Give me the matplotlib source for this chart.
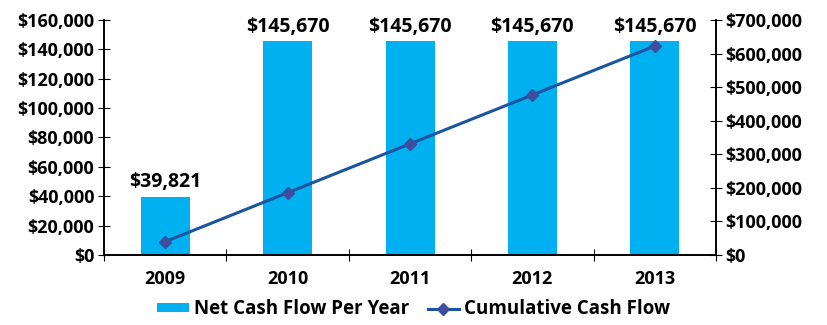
import matplotlib.pyplot as plt
import numpy as np
from matplotlib.ticker import FuncFormatter

years = ["2009", "2010", "2011", "2012", "2013"]
net_flow = [39821, 145670, 145670, 145670, 145670]
cumulative = [39821, 185491, 331161, 476831, 622501]

plt.rcParams['font.family'] = ['Open Sans', 'DejaVu Sans']
plt.rcParams['font.weight'] = 'bold'

fig = plt.figure(figsize=(8.27, 3.25), dpi=100)
ax = fig.add_axes([0.1258, 0.2154, 0.74, 0.7231])
ax2 = ax.twinx()

x = np.arange(len(years))
bars = ax.bar(x, net_flow, width=0.4, color="#00B0F0", label="Net Cash Flow Per Year", zorder=2)
for xi, v in zip(x, net_flow):
    ax.text(xi, v + 3000, f"${v:,}", ha="center", va="bottom", fontsize=14, fontweight="bold")

ln, = ax2.plot(x, cumulative, color="#1B54A0", lw=2.2, marker="D", ms=6,
               mfc="#3F4D9E", mec="#3F4D9E", label="Cumulative Cash Flow")

money = FuncFormatter(lambda v, p: f"${int(v):,}")
ax.set_xlim(-0.5, 4.5)
ax.set_ylim(0, 160000)
ax.set_yticks(np.arange(0, 160001, 20000))
ax.yaxis.set_major_formatter(money)
ax2.set_ylim(0, 700000)
ax2.set_yticks(np.arange(0, 700001, 100000))
ax2.yaxis.set_major_formatter(money)

ax.set_xticks(np.arange(-0.5, 5, 1))
ax.set_xticklabels([])
ax.set_xticks(x, minor=True)
ax.set_xticklabels(years, minor=True)
ax.tick_params(axis="x", which="minor", length=0, pad=11, labelsize=13)
ax.tick_params(axis="x", which="major", direction="inout", length=8)
ax.tick_params(axis="y", direction="inout", length=8, labelsize=13, pad=3)
ax2.tick_params(axis="y", direction="inout", length=8, labelsize=13, pad=3)

for a in (ax, ax2):
    a.spines["top"].set_visible(False)
    for s in ("left", "right", "bottom"):
        a.spines[s].set_linewidth(1.2)

handles = [bars, ln]
fig.legend(handles, [h.get_label() for h in handles], loc="lower center",
           bbox_to_anchor=(0.5, -0.035), ncol=2, frameon=False, fontsize=13.5,
           handlelength=1.7, handleheight=0.35, columnspacing=1.0, handletextpad=0.25)

fig.savefig("out.png", dpi=100)
